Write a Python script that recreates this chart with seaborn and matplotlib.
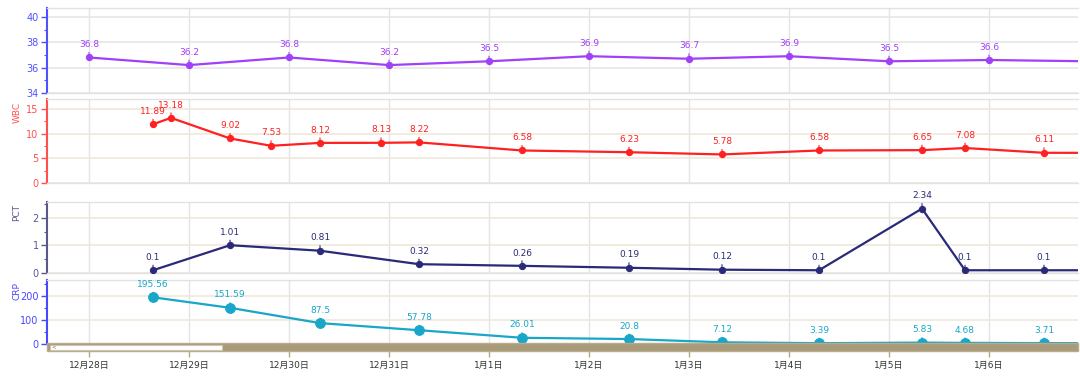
import numpy as np
import pandas as pd
import matplotlib
matplotlib.use('Agg')
import matplotlib.pyplot as plt
import seaborn as sns
from matplotlib.patches import Rectangle
from matplotlib.ticker import AutoMinorLocator

# x axis: days counted from 12月28日
day_ticks = [0, 1, 2, 3, 4, 5, 6, 7, 8, 9]
day_labels = ['12月28日', '12月29日', '12月30日', '12月31日', '1月1日',
              '1月2日', '1月3日', '1月4日', '1月5日', '1月6日']

# temperature
temp_days = [0, 1, 2, 3, 4, 5, 6, 7, 8, 9, 10]
temp_vals = [36.8, 36.2, 36.8, 36.2, 36.5, 36.9, 36.7, 36.9, 36.5, 36.6, 36.5]

# WBC
wbc_days = [0.64, 0.82, 1.41, 1.82, 2.31, 2.92, 3.30, 4.33, 5.40, 6.33, 7.30, 8.33, 8.76, 9.55, 10.4]
wbc_vals = [11.89, 13.18, 9.02, 7.53, 8.12, 8.13, 8.22, 6.58, 6.23, 5.78, 6.58, 6.65, 7.08, 6.11, 6.1]

# PCT / CRP share sampling days
lab_days = [0.64, 1.41, 2.31, 3.30, 4.33, 5.40, 6.33, 7.30, 8.33, 8.76, 9.55, 10.4]
pct_vals = [0.1, 1.01, 0.81, 0.32, 0.26, 0.19, 0.12, 0.1, 2.34, 0.1, 0.1, 0.1]
crp_vals = [195.56, 151.59, 87.5, 57.78, 26.01, 20.8, 7.12, 3.39, 5.83, 4.68, 3.71, 3.5]

sns.set_style('white')
plt.rcParams['font.family'] = ['DejaVu Sans', 'Noto Sans CJK SC']

W, H = 1080, 377
fig = plt.figure(figsize=(W / 100, H / 100), dpi=100)

XMIN, XMAX = -0.42, 9.89
left = 47 / W
width = (1078 - 47) / W


def px_axes(top, bottom):
    return fig.add_axes([left, 1 - bottom / H, width, (bottom - top) / H])


def panel(ax, days, vals, color, axis_color, ylim, yticks, ms, name=None):
    df = pd.DataFrame({'day': days, 'val': vals})
    sns.lineplot(data=df, x='day', y='val', ax=ax, color=color, lw=1.6,
                 marker='o', markersize=ms, markeredgecolor=color, zorder=3)
    for d, v in zip(days, vals):
        if XMIN <= d <= XMAX:
            ax.annotate(f'{v:g}', (d, v), xytext=(0, 6), textcoords='offset points',
                        ha='center', va='bottom', fontsize=6.5, color=color,
                        arrowprops=dict(arrowstyle='-', color=color, lw=0.8,
                                        shrinkA=0, shrinkB=0))
    ax.set_xlim(XMIN, XMAX)
    ax.set_ylim(*ylim)
    ax.set_yticks(yticks)
    ax.yaxis.set_minor_locator(AutoMinorLocator(2))
    ax.set_xticks(day_ticks)
    ax.grid(axis='x', color='#e4e4e4', lw=1)
    ax.grid(axis='y', color='#efe8da', lw=1.2)
    ax.set_axisbelow(True)
    ax.tick_params(axis='y', which='major', length=4, width=1, colors=axis_color,
                   labelsize=7, pad=2, left=True)
    ax.tick_params(axis='y', which='minor', length=2, width=0.8, colors=axis_color, left=True)
    ax.tick_params(axis='x', length=0, labelbottom=False)
    ax.spines['left'].set_color(axis_color)
    ax.spines['left'].set_linewidth(1.5)
    ax.spines['right'].set_visible(False)
    for s in ('top', 'bottom'):
        ax.spines[s].set_color('#e2e2e2')
        ax.spines[s].set_linewidth(1)
    ax.set_xlabel('')
    ax.set_ylabel('')
    if name:
        ax.text(-0.029, 0.97, name, transform=ax.transAxes, rotation=90,
                ha='center', va='top', fontsize=6.5, color=axis_color)


ax_t = px_axes(8, 93)
panel(ax_t, temp_days, temp_vals, '#a040f8', '#5050ff', (34, 40.7), [34, 36, 38, 40], 4.5)
ax_t.grid(axis='y', color='#e6e6e6', lw=1.2)

ax_w = px_axes(99, 183)
panel(ax_w, wbc_days, wbc_vals, '#ff2020', '#ff5050', (0, 17), [0, 5, 10, 15], 4.5, 'WBC')

ax_p = px_axes(202, 273)
panel(ax_p, lab_days, pct_vals, '#2a2a78', '#58588c', (0, 2.58), [0, 1, 2], 4.5, 'PCT')

ax_c = px_axes(280, 344)
panel(ax_c, lab_days, crp_vals, '#1aa6c8', '#4848ff', (0, 268), [0, 100, 200], 7, 'CRP')

# date labels sit under the scroll bar
ax_c.set_xticks(day_ticks)
ax_c.set_xticklabels(day_labels)
ax_c.tick_params(axis='x', length=9, width=1, color='#b8a888', labelbottom=True,
                 labelsize=6.5, labelcolor='#333333', pad=3, bottom=True)

# scroll bar
sb_y0 = 1 - 351 / H
sb_h = 8 / H
fig.patches.append(Rectangle((left, sb_y0), width, sb_h, transform=fig.transFigure,
                             facecolor='#a99a7a', edgecolor='#b9ab8d', lw=1, zorder=10))
fig.patches.append(Rectangle((50 / W, sb_y0 + 1.5 / H), (222 - 50) / W, 5 / H,
                             transform=fig.transFigure, facecolor='white',
                             edgecolor='#cfc4ae', lw=0.8, zorder=11))
fig.text(51 / W, 1 - 347 / H, '<', fontsize=4, color='#806a40', va='center', zorder=12)

fig.savefig('out.png', dpi=100)
